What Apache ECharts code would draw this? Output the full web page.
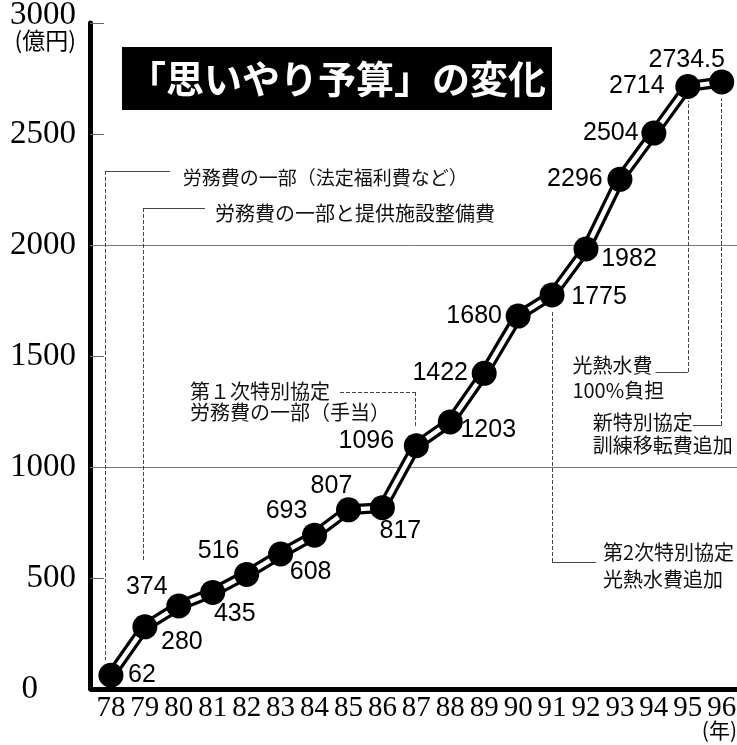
<!DOCTYPE html>
<html><head><meta charset="utf-8">
<script src="https://cdn.jsdelivr.net/npm/echarts@6/dist/echarts.min.js"></script>
<style>html,body{margin:0;padding:0;background:#fff}#c{width:737px;height:745px}</style>
</head><body><div id="c"></div>
<script>
// ---- data ----
const years = [78,79,80,81,82,83,84,85,86,87,88,89,90,91,92,93,94,95,96];
const values = [62,280,374,435,516,608,693,807,817,1096,1203,1422,1680,1775,1982,2296,2504,2714,2734.5];
const yTicks = [0,500,1000,1500,2000,2500,3000];
const gridValues = [1000,2000];
const titleText = '「思いやり予算」の変化';
const yUnit = '(億円)';
const xUnit = '(年)';
const notes = [
  '労務費の一部（法定福利費など）',
  '労務費の一部と提供施設整備費',
  '第１次特別協定\n労務費の一部（手当）',
  '光熱水費\n100%負担',
  '新特別協定\n訓練移転費追加',
  '第2次特別協定\n光熱水費追加'
];

// ---- layout (positions / styles, not data) ----
const labelOffsets = [[31,0],[37,15],[-32,-19],[22,22],[-28,-23],[30,18],[-28,-24],[-17,-24],[18,23],[-50,-5],[38,8],[-44,0],[-44,0],[47,2],[43,10],[-45,0],[-43,0],[-51,0],[-35,-22]];
const noteAnchors = [[80.12,2302],[81.07,2144],[80.33,1293],[91.6,1403],[92.2,1151],[92.5,554]];
const noteLineHeights = [22,22,21,25,23,27];
const noteSizes = [19,20,20,20,20,20];
const leaders = [
  {a:[77.82,2334],b:[79.74,2334],t:'solid'},
  {a:[77.82,2334],b:[77.82,131],t:'dashed'},
  {a:[78.94,2167],b:[80.77,2167],t:'solid'},
  {a:[78.94,2167],b:[78.94,581],t:'dashed'},
  {a:[84.75,1338],b:[86.96,1338],t:'dashed'},
  {a:[86.96,1338],b:[86.96,1185],t:'dashed'},
  {a:[94.05,1428],b:[95,1428],t:'solid'},
  {a:[95,1428],b:[95,2650],t:'dashed'},
  {a:[95.15,1189],b:[96,1189],t:'solid'},
  {a:[96,1189],b:[96,2660],t:'dashed'},
  {a:[91,572],b:[92.3,572],t:'solid'},
  {a:[91,572],b:[91,1700],t:'dashed'}
];
const axisStartX = 77.38, axisEndX = 96.45;

const chart = echarts.init(document.getElementById('c'), null, {renderer:'canvas'});

const markLines = [];
gridValues.forEach(v => markLines.push([
  {coord:[axisStartX, v], lineStyle:{color:'#777', width:1, type:'solid'}},
  {coord:[axisEndX, v]}
]));
leaders.forEach(l => markLines.push([
  {coord:l.a, lineStyle:{color:'#444', width:1, type:l.t}},
  {coord:l.b}
]));
markLines.push([
  {coord:[axisStartX, 0], lineStyle:{color:'#000', width:5, type:'solid'}},
  {coord:[axisEndX, 0]}
]);

const notePoints = notes.map((t,i) => ({
  name: t,
  coord: noteAnchors[i],
  label: {lineHeight: noteLineHeights[i], fontSize: noteSizes[i]}
}));

const pts = years.map((y,i) => [y, values[i]]);

chart.setOption({
  animation: false,
  backgroundColor: '#fff',
  title: [{
    text: titleText, left: 122, top: 47,
    backgroundColor: '#000', padding: [12,6,12,6],
    textStyle: {color:'#fff', fontSize:38, lineHeight:39, fontFamily:'Noto Sans CJK JP', fontWeight:'bold'}
  }, {
    text: xUnit, right: 0, bottom: 4, padding: 0,
    textStyle: {color:'#000', fontSize:21, fontFamily:'Noto Sans CJK JP', fontWeight:'normal'}
  }],
  grid: {left: 77, right: 0, top: 23, bottom: 56, containLabel: false, outerBoundsMode: 'none'},
  xAxis: {
    type: 'value', min: 77, max: axisEndX, interval: 1,
    axisLine: {show: false}, axisTick: {show: false}, splitLine: {show: false},
    showMaxLabel: false,
    axisLabel: {
      margin: 5, color: '#000', fontFamily: 'Liberation Serif', fontSize: 29,
      formatter: v => (years.indexOf(v) >= 0 ? String(v) : '')
    }
  },
  yAxis: {
    type: 'value', min: yTicks[0], max: yTicks[yTicks.length-1], interval: 500,
    offset: -13,
    axisLine: {show: true, lineStyle: {color:'#000', width:5}},
    axisTick: {show: true, inside: true, length: 14, lineStyle: {color:'#666', width:1}},
    splitLine: {show: false},
    axisLabel: {
      margin: 14, color: '#000', fontFamily: 'Liberation Serif', fontSize: 33,
      formatter: v => v === 3000 ? '{a|3000}\n{u|' + yUnit + '}' : (v === 0 ? '{z|0}' : String(v)),
      rich: {
        a: {fontFamily:'Liberation Serif', fontSize:33, lineHeight:34, color:'#000'},
        u: {fontFamily:'Noto Sans CJK JP', fontSize:23, lineHeight:16, color:'#000'},
        z: {fontFamily:'Liberation Serif', fontSize:33, color:'#000', padding:[0,38,0,0]}
      }
    }
  },
  series: [
    {
      type: 'line', data: pts, showSymbol: false, symbol: 'none', silent: true, z: 2, clip: false,
      lineStyle: {color:'#000', width:11},
      markLine: {
        silent: true, z: 1, symbol: ['none','none'], label: {show:false},
        data: markLines
      },
      markPoint: {
        silent: true, symbol: 'circle', symbolSize: 0, z: 6,
        label: {
          show: true, position: 'inside', align: 'left', verticalAlign: 'middle',
          color: '#111', fontFamily: 'Noto Sans CJK JP', formatter: '{b}'
        },
        data: notePoints
      }
    },
    {
      type: 'line', z: 3, clip: false,
      data: pts,
      symbol: 'circle', symbolSize: 25,
      itemStyle: {color:'#000'},
      lineStyle: {color:'#fff', width:4.5},
      label: {
        show: true, position: 'inside', align: 'center', verticalAlign: 'middle',
        color: '#000', fontFamily: 'Liberation Sans', fontSize: 25,
        formatter: p => String(p.value[1])
      },
      labelLayout: p => ({dx: labelOffsets[p.dataIndex][0], dy: labelOffsets[p.dataIndex][1]})
    }
  ]
});
</script>
</body></html>
